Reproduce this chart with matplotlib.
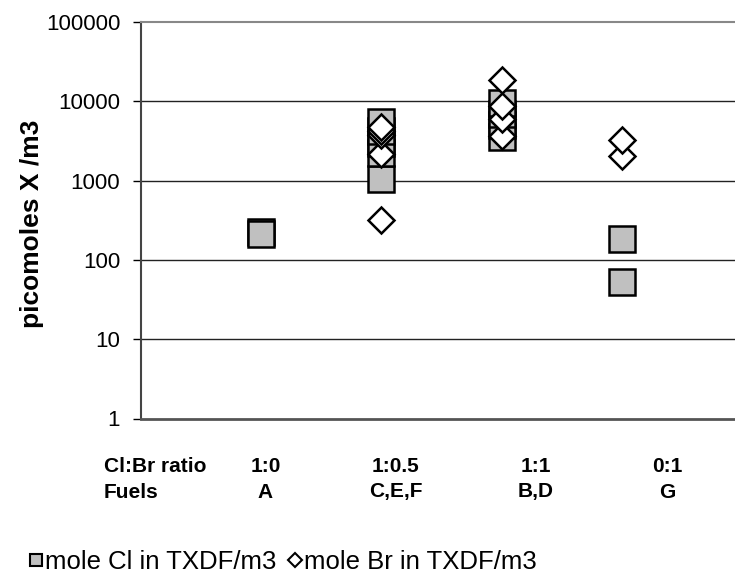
import numpy as np
import matplotlib
matplotlib.use("Agg")
import matplotlib.pyplot as plt
from matplotlib.lines import Line2D
from matplotlib.ticker import FixedLocator, FixedFormatter, NullLocator
from matplotlib.transforms import blended_transform_factory

plt.rcParams['font.family'] = ['Liberation Sans', 'DejaVu Sans']

# category positions: 1:0, 1:0.5, 1:1, 0:1
ratios = ['1:0', '1:0.5', '1:1', '0:1']
fuels = ['A', 'C,E,F', 'B,D', 'G']

cl_x = [1, 1, 2, 2, 2, 2, 2, 3, 3, 3, 3, 4, 4]
cl_y = [226, 213, 1050, 2250, 3000, 4200, 5500, 3550, 5000, 7000, 9500, 181, 53]

br_x = [2, 2, 2, 2, 2, 3, 3, 3, 3, 4, 4]
br_y = [320, 2150, 3800, 4250, 4700, 3700, 6000, 8600, 18500, 2070, 3270]

yticks = [1, 10, 100, 1000, 10000, 100000]

fig = plt.figure(figsize=(7.35, 5.86), dpi=100)
ax = fig.add_axes([141 / 735, 1 - 418.5 / 586, 601 / 735, 396.5 / 586])

ax.set_yscale('log')
ax.set_ylim(1, 100000)
ax.set_xlim(0, 5)

for v in yticks[1:-1]:
    ax.axhline(v, color='#222222', lw=1.0, zorder=1)

ax.plot(cl_x, cl_y, ls='none', marker='s', ms=18.5, mfc='#c0c0c0', mec='black',
        mew=1.8, zorder=3)
ax.plot(br_x, br_y, ls='none', marker='D', ms=13.5, mfc='white', mec='black',
        mew=1.8, zorder=4)

ax.yaxis.set_major_locator(FixedLocator(yticks))
ax.yaxis.set_major_formatter(FixedFormatter([str(v) for v in yticks]))
ax.yaxis.set_minor_locator(NullLocator())
ax.tick_params(axis='y', direction='out', length=6, width=1, pad=9,
               labelsize=16, colors='black')
ax.set_xticks([])

ax.spines['top'].set_color('#888888')
ax.spines['top'].set_linewidth(1.5)
ax.spines['right'].set_visible(False)
ax.spines['left'].set_color('#444444')
ax.spines['left'].set_linewidth(1.5)
ax.spines['bottom'].set_color('#555555')
ax.spines['bottom'].set_linewidth(2)

fig.text(32 / 735, 1 - 224 / 586, 'picomoles X /m3', rotation=90, fontsize=19,
         fontweight='bold', ha='center', va='center')

# category labels under the plot
tr = blended_transform_factory(ax.transData, fig.transFigure)
y1 = 1 - 467 / 586
y2 = 1 - 492 / 586
fig.text(104 / 735, y1, 'Cl:Br ratio', fontsize=15, fontweight='bold',
         ha='left', va='center')
fig.text(104 / 735, y2, 'Fuels', fontsize=15, fontweight='bold',
         ha='left', va='center')
lab_x = [1.035, 2.12, 3.285, 4.38]
for xx, r, f in zip(lab_x, ratios, fuels):
    ax.text(xx, y1, r, transform=tr, fontsize=15, fontweight='bold',
            ha='center', va='center')
    ax.text(xx, y2, f, transform=tr, fontsize=15, fontweight='bold',
            ha='center', va='center')

handles = [
    Line2D([], [], ls='none', marker='s', ms=8.5, mfc='#c0c0c0', mec='black', mew=1.5),
    Line2D([], [], ls='none', marker='D', ms=7, mfc='white', mec='black', mew=1.5),
]
fig.legend(handles, ['mole Cl in TXDF/m3', 'mole Br in TXDF/m3'],
           loc='center left', bbox_to_anchor=(30 / 735, 1 - 562 / 586),
           ncol=2, frameon=False, fontsize=18.5, handlelength=0.5,
           handletextpad=0.1, columnspacing=0.45, borderpad=0, borderaxespad=0)

fig.savefig('out.png', dpi=100)
